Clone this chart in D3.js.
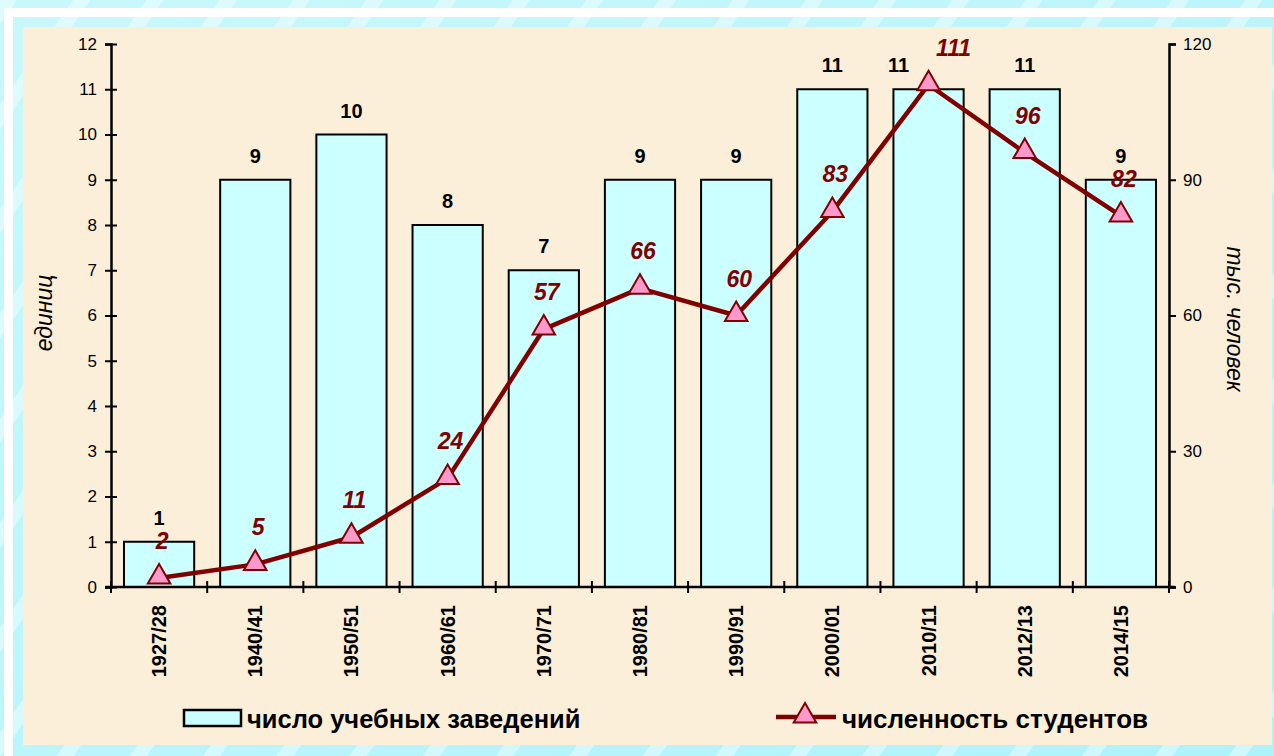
<!DOCTYPE html>
<html lang="ru">
<head>
    <meta charset="UTF-8">
    <title>Учебные заведения и студенты</title>
    <script src="https://d3js.org/d3.v7.min.js"></script>
    <style>
        body {
            margin: 0;
            padding: 0;
            overflow: hidden;
            background: #b3f6fb;
            font-family: Arial, "Liberation Sans", sans-serif;
        }
    </style>
</head>
<body>
    <div id="chart"></div>

    <script>
        // данные
        const years = ["1927/28", "1940/41", "1950/51", "1960/61", "1970/71", "1980/81",
                       "1990/91", "2000/01", "2010/11", "2012/13", "2014/15"];
        const institutions = [1, 9, 10, 8, 7, 9, 9, 11, 11, 11, 9];
        const students = [2, 5, 11, 24, 57, 66, 60, 83, 111, 96, 82];
        const leftTicks = [0, 1, 2, 3, 4, 5, 6, 7, 8, 9, 10, 11, 12];
        const rightTicks = [0, 30, 60, 90, 120];

        const width = 1274;
        const height = 756;
        const plot = { left: 111, right: 1169, top: 44, bottom: 587 };

        const barFill = "#ccffff";
        const lineColor = "#800000";
        const markerFill = "#ff99cc";

        const svg = d3.select("#chart")
            .append("svg")
            .attr("width", width)
            .attr("height", height);

        // фон с полосами
        const defs = svg.append("defs");
        const bg = defs.append("linearGradient")
            .attr("id", "bgGrad")
            .attr("x1", "0").attr("y1", "0")
            .attr("x2", "1").attr("y2", "1");
        bg.append("stop").attr("offset", "0%").attr("stop-color", "#c9f8fc");
        bg.append("stop").attr("offset", "100%").attr("stop-color", "#aef3fa");

        const stripes = defs.append("pattern")
            .attr("id", "stripes")
            .attr("width", 60).attr("height", 60)
            .attr("patternUnits", "userSpaceOnUse")
            .attr("patternTransform", "rotate(35)");
        stripes.append("rect")
            .attr("width", 14).attr("height", 60)
            .attr("fill", "#ffffff").attr("opacity", 0.4);

        svg.append("rect").attr("width", width).attr("height", height).attr("fill", "url(#bgGrad)");
        svg.append("rect").attr("width", width).attr("height", height).attr("fill", "url(#stripes)");

        // белая рамка
        svg.append("rect")
            .attr("x", 8.5).attr("y", 12.5)
            .attr("width", width).attr("height", height)
            .attr("fill", "none")
            .attr("stroke", "#ffffff")
            .attr("stroke-width", 9);

        // область диаграммы
        svg.append("rect")
            .attr("x", 23).attr("y", 27)
            .attr("width", 1249).attr("height", 718)
            .attr("fill", "#fbefd9");

        // шкалы
        const x = d3.scaleBand()
            .domain(years)
            .range([plot.left, plot.right])
            .paddingInner(0.27)
            .paddingOuter(0.135);

        const yLeft = d3.scaleLinear()
            .domain([0, 12])
            .range([plot.bottom, plot.top]);

        const yRight = d3.scaleLinear()
            .domain([0, 120])
            .range([plot.bottom, plot.top]);

        const cx = i => x(years[i]) + x.bandwidth() / 2;

        // столбцы
        svg.selectAll(".bar")
            .data(institutions)
            .enter()
            .append("rect")
            .attr("class", "bar")
            .attr("x", (d, i) => x(years[i]))
            .attr("y", d => yLeft(d))
            .attr("width", x.bandwidth())
            .attr("height", d => plot.bottom - yLeft(d))
            .attr("fill", barFill)
            .attr("stroke", "#000")
            .attr("stroke-width", 2);

        // левая ось
        const leftAxis = svg.append("g")
            .attr("transform", `translate(${plot.left},0)`)
            .call(d3.axisLeft(yLeft).tickValues(leftTicks).tickSize(6).tickPadding(8));
        leftAxis.select(".domain").attr("stroke-width", 2.5);
        leftAxis.selectAll(".tick line").attr("x1", -6).attr("x2", 6).attr("stroke-width", 2);
        leftAxis.selectAll(".tick text")
            .attr("font-size", 17)
            .attr("font-family", "Arial, 'Liberation Sans', sans-serif")
            .attr("fill", "#000");

        // правая ось
        const rightAxis = svg.append("g")
            .attr("transform", `translate(${plot.right},0)`)
            .call(d3.axisRight(yRight).tickValues(rightTicks).tickSize(7).tickPadding(7));
        rightAxis.select(".domain").attr("stroke-width", 2.5);
        rightAxis.selectAll(".tick line").attr("stroke-width", 2);
        rightAxis.selectAll(".tick text")
            .attr("font-size", 17)
            .attr("font-family", "Arial, 'Liberation Sans', sans-serif")
            .attr("fill", "#000");

        // нижняя ось: деления на границах категорий
        const bottomAxis = svg.append("g");
        bottomAxis.append("line")
            .attr("x1", plot.left - 6).attr("x2", plot.right + 6)
            .attr("y1", plot.bottom).attr("y2", plot.bottom)
            .attr("stroke", "#000").attr("stroke-width", 2.5);
        bottomAxis.selectAll(".xtick")
            .data(d3.range(years.length + 1))
            .enter()
            .append("line")
            .attr("x1", k => plot.left + k * x.step())
            .attr("x2", k => plot.left + k * x.step())
            .attr("y1", plot.bottom - 6)
            .attr("y2", plot.bottom + 6)
            .attr("stroke", "#000").attr("stroke-width", 2);
        bottomAxis.selectAll(".xlabel")
            .data(years)
            .enter()
            .append("text")
            .attr("transform", d => `translate(${x(d) + x.bandwidth() / 2},${plot.bottom + 18}) rotate(-90)`)
            .attr("text-anchor", "end")
            .attr("dominant-baseline", "central")
            .attr("font-size", 20)
            .attr("font-weight", "bold")
            .attr("fill", "#000")
            .text(d => d);

        // положение подписей; если подпись столбца и подпись линии сталкиваются — разводим их
        const barLabelY = institutions.map(d => yLeft(d) - 17);
        const lineLabelY = students.map(d => yRight(d) - 29);
        const clash = barLabelY.map((yb, i) => Math.abs(yb - lineLabelY[i]) < 21);

        // подписи столбцов
        svg.selectAll(".barlabel")
            .data(institutions)
            .enter()
            .append("text")
            .attr("x", (d, i) => cx(i) - (clash[i] ? 30 : 0))
            .attr("y", (d, i) => barLabelY[i])
            .attr("text-anchor", "middle")
            .attr("font-size", 20)
            .attr("font-weight", "bold")
            .attr("fill", "#000")
            .text(d => d);

        // линия численности студентов
        const line = d3.line()
            .x((d, i) => cx(i))
            .y(d => yRight(d));

        svg.append("path")
            .datum(students)
            .attr("d", line)
            .attr("fill", "none")
            .attr("stroke", lineColor)
            .attr("stroke-width", 4.5)
            .attr("stroke-linejoin", "round");

        const tri = d3.symbol().type(d3.symbolTriangle).size(220);

        svg.selectAll(".marker")
            .data(students)
            .enter()
            .append("path")
            .attr("d", tri)
            .attr("transform", (d, i) => `translate(${cx(i)},${yRight(d) - 1})`)
            .attr("fill", markerFill)
            .attr("stroke", lineColor)
            .attr("stroke-width", 2);

        svg.selectAll(".linelabel")
            .data(students)
            .enter()
            .append("text")
            .attr("x", (d, i) => cx(i) + 3 + (clash[i] ? 22 : 0))
            .attr("y", (d, i) => lineLabelY[i])
            .attr("text-anchor", "middle")
            .attr("font-size", 23)
            .attr("font-weight", "bold")
            .attr("font-style", "italic")
            .attr("fill", lineColor)
            .text(d => d);

        // подписи осей
        svg.append("text")
            .attr("transform", "translate(44,313) rotate(-90)")
            .attr("text-anchor", "middle")
            .attr("dominant-baseline", "central")
            .attr("font-size", 23)
            .attr("font-style", "italic")
            .attr("fill", "#000")
            .text("единиц");

        svg.append("text")
            .attr("transform", "translate(1235,319) rotate(90)")
            .attr("text-anchor", "middle")
            .attr("dominant-baseline", "central")
            .attr("font-size", 23)
            .attr("font-style", "italic")
            .attr("fill", "#000")
            .text("тыс. человек");

        // легенда
        const legend = svg.append("g");
        legend.append("rect")
            .attr("x", 184).attr("y", 710)
            .attr("width", 57).attr("height", 16)
            .attr("fill", barFill)
            .attr("stroke", "#000")
            .attr("stroke-width", 2.5);
        legend.append("text")
            .attr("x", 247).attr("y", 728)
            .attr("font-size", 25.5)
            .attr("font-weight", "bold")
            .attr("fill", "#000")
            .text("число учебных заведений");

        legend.append("line")
            .attr("x1", 776).attr("x2", 836)
            .attr("y1", 717).attr("y2", 717)
            .attr("stroke", lineColor)
            .attr("stroke-width", 4.5);
        legend.append("path")
            .attr("d", tri)
            .attr("transform", "translate(805,716)")
            .attr("fill", markerFill)
            .attr("stroke", lineColor)
            .attr("stroke-width", 2);
        legend.append("text")
            .attr("x", 842).attr("y", 728)
            .attr("font-size", 26)
            .attr("font-weight", "bold")
            .attr("fill", "#000")
            .text("численность студентов");
    </script>
</body>
</html>
